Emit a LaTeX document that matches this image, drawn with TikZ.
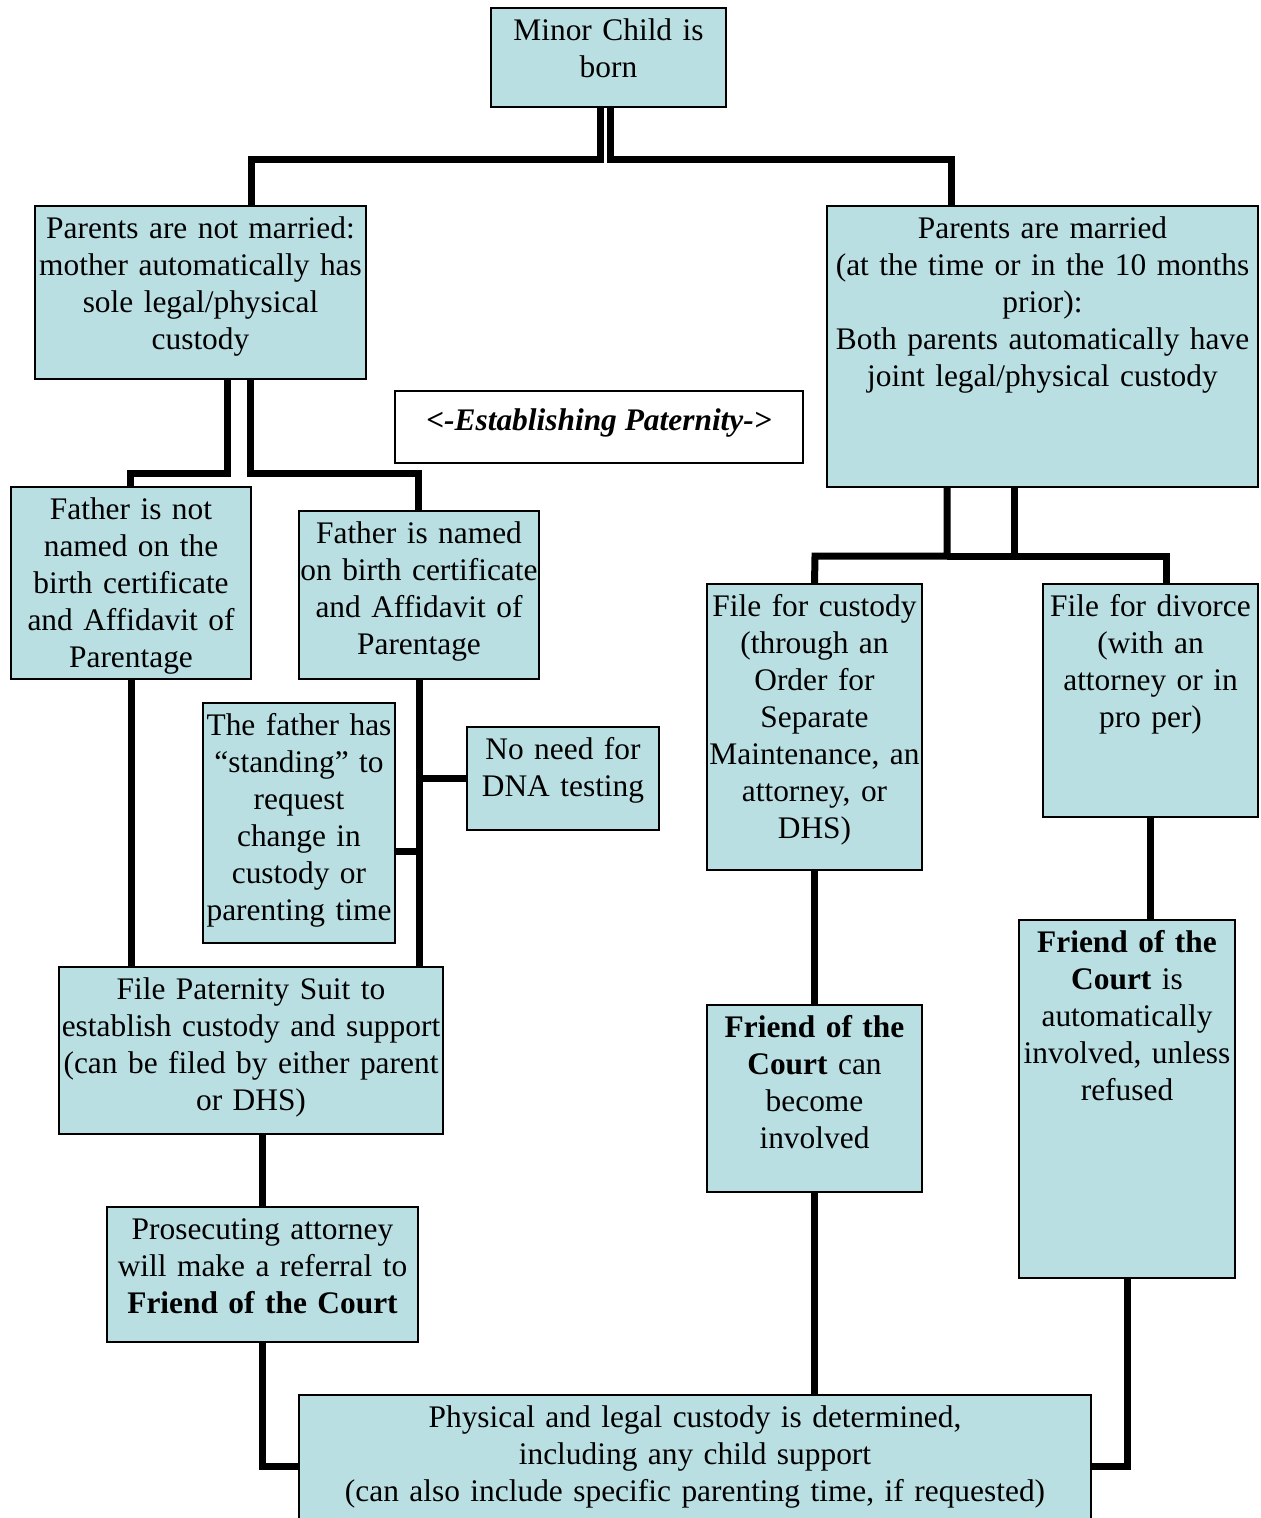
\documentclass[tikz,border=0pt]{standalone}
\usepackage{fontspec}
\setmainfont{Liberation Serif}
\definecolor{boxfill}{RGB}{185,223,227}
\newcommand{\mybox}[6]{%
 \pgfmathsetmacro\mybw{(#4-#2)*0.5}%
 \pgfmathsetmacro\mybh{(#5-#3)*0.5}%
 \pgfmathsetmacro\mytw{(#4-#2)*0.5+10}%
 \node[box,anchor=north west,minimum width=\mybw pt,minimum height=\mybh pt] (#1) at (#2,#3) {};
 \node[txt,text width=\mytw pt,anchor=north] (#1-t) at ([yshift=-3.2pt]#1.north) {\strut #6};}
\begin{document}
\begin{tikzpicture}[x=0.5pt,y=-0.5pt,
 box/.style={draw=black, line width=1pt, fill=boxfill, inner sep=0pt, outer sep=0pt},
 txt/.style={inner sep=0pt, align=center, font=\fontsize{15.7}{18.5}\selectfont},
 conn/.style={line width=3.5pt, line join=miter}]
\useasboundingbox (0,0) rectangle (1260,1518);

\mybox{mc}{491}{8}{726}{107}{Minor Child is\\born}
\mybox{pn}{35}{206}{366}{379}{Parents are not married:\\mother automatically has\\sole legal/physical\\custody}
\mybox{pm}{827}{206}{1258}{487}{Parents are married\\(at the time or in the 10 months\\prior):\\Both parents automatically have\\joint legal/physical custody}
\node[box,fill=white,anchor=north west,minimum width=204pt,minimum height=36pt] (ep) at (395,391) {};
\node[txt,font=\fontsize{15.7}{18.5}\selectfont\bfseries\itshape] (ep-t) at ([yshift=2pt]ep.center) {<-Establishing Paternity->};
\mybox{fn}{11}{487}{251}{679}{Father is not\\named on the\\birth certificate\\and Affidavit of\\Parentage}
\mybox{fy}{299}{511}{539}{679}{Father is named\\on birth certificate\\and Affidavit of\\Parentage}
\mybox{std}{203}{703}{395}{943}{The father has\\“standing” to\\request\\change in\\custody or\\parenting time}
\mybox{dna}{467}{727}{659}{830}{No need for\\DNA testing}
\mybox{fc}{707}{584}{922}{870}{File for custody\\(through an\\Order for\\Separate\\Maintenance, an\\attorney, or\\DHS)}
\mybox{fd}{1043}{584}{1258}{817}{File for divorce\\(with an\\attorney or in\\pro per)}
\mybox{fps}{59}{967}{443}{1134}{File Paternity Suit to\\establish custody and support\\(can be filed by either parent\\or DHS)}
\mybox{fcb}{707}{1005}{922}{1192}{\textbf{Friend of the}\\\textbf{Court} can\\become\\involved}
\mybox{fca}{1019}{920}{1235}{1278}{\textbf{Friend of the}\\\textbf{Court} is\\automatically\\involved, unless\\refused}
\mybox{pa}{107}{1207}{418}{1342}{Prosecuting attorney\\will make a referral to\\\textbf{Friend of the Court}}
\mybox{pl}{299}{1395}{1091}{1530}{Physical and legal custody is determined,\\including any child support\\(can also include specific parenting time, if requested)}

\coordinate (y851) at (0,851);
\draw[conn] ([xshift=-4.25pt]mc.south) |- (251,160) -- ([xshift=25.25pt]pn.north);
\draw[conn] ([xshift=0.75pt]mc.south) |- (951,160) -- ([xshift=-45.75pt]pm.north);
\draw[conn] ([xshift=13.25pt]pn.south) |- (130,473) -- ([xshift=-0.5pt]fn.north);
\draw[conn] ([xshift=24.75pt]pn.south) |- (418,473) -- ([xshift=-0.5pt]fy.north);
\draw[conn] (fn.south) -- (fn.south |- fps.north);
\draw[conn] (fy.south) -- (fy.south |- fps.north);
\draw[conn] (dna.west) -- (dna.west -| fy.south);
\draw[conn] (std.east |- y851) -- (fy.south |- y851);
\draw[conn] ([xshift=-47.75pt]pm.south) |- (815,556) -- (fc.north);
\draw[conn] ([xshift=-14.25pt]pm.south) |- (1166,556) -- ([xshift=7.75pt]fd.north);
\draw[conn] (947,556) -- (1014,556);
\draw[conn] (fc.south) -- (fc.south |- fcb.north);
\draw[conn] (fd.south) -- (fd.south |- fca.north);
\draw[conn] (pa.north |- fps.south) -- (pa.north);
\draw[conn] (pa.south) |- ([yshift=-1.75pt]pl.west);
\draw[conn] (fcb.south) -- (fcb.south |- pl.north);
\draw[conn] (fca.south) |- ([yshift=-1.75pt]pl.east);
\end{tikzpicture}
\end{document}
